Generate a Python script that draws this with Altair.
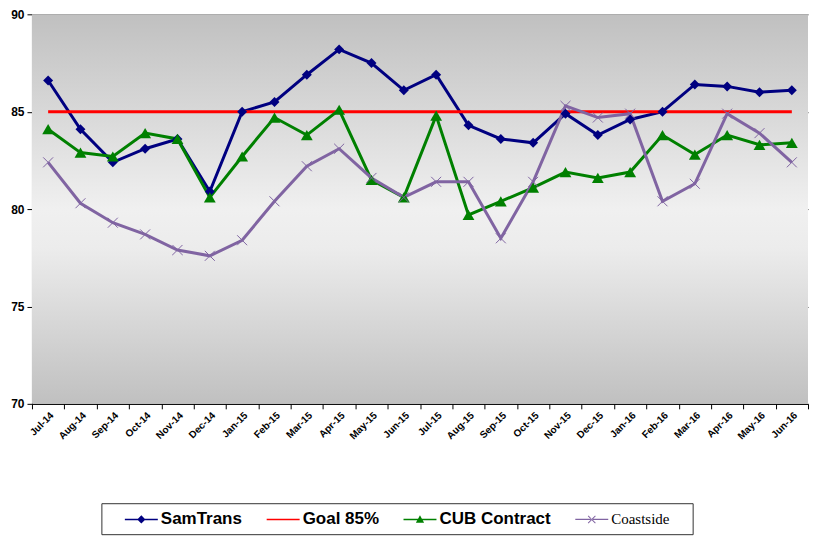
import altair as alt
import pandas as pd

months = ["Jul-14", "Aug-14", "Sep-14", "Oct-14", "Nov-14", "Dec-14",
          "Jan-15", "Feb-15", "Mar-15", "Apr-15", "May-15", "Jun-15",
          "Jul-15", "Aug-15", "Sep-15", "Oct-15", "Nov-15", "Dec-15",
          "Jan-16", "Feb-16", "Mar-16", "Apr-16", "May-16", "Jun-16"]

samtrans = [86.6, 84.1, 82.4, 83.1, 83.6, 80.9, 85.0, 85.5, 86.9, 88.2, 87.5, 86.1,
            86.9, 84.3, 83.6, 83.4, 84.9, 83.8, 84.6, 85.0, 86.4, 86.3, 86.0, 86.1]
goal = [85.0] * 24
cub = [84.1, 82.9, 82.7, 83.9, 83.6, 80.6, 82.7, 84.7, 83.8, 85.1, 81.5, 80.6,
       84.8, 79.7, 80.4, 81.1, 81.9, 81.6, 81.9, 83.8, 82.8, 83.8, 83.3, 83.4]
coastside = [82.4, 80.3, 79.3, 78.7, 77.9, 77.6, 78.4, 80.4, 82.2, 83.1, 81.6, 80.6,
             81.4, 81.4, 78.5, 81.4, 85.3, 84.7, 84.9, 80.4, 81.3, 84.9, 83.9, 82.4]

series_names = ["SamTrans", "Goal 85%", "CUB Contract", "Coastside"]
series_colors = ["#000080", "#FF0000", "#008000", "#8064A2"]

rows = []
for name, vals in zip(series_names, [samtrans, goal, cub, coastside]):
    for m, v in zip(months, vals):
        rows.append({"month": m, "series": name, "value": v})
df = pd.DataFrame(rows)

W, H = 777, 390

x = alt.X("month:N", sort=months, title=None,
          scale=alt.Scale(paddingInner=0, paddingOuter=0),
          axis=alt.Axis(labelAngle=-45, labelAlign="right", labelBaseline="top",
                        labelFont="Liberation Sans", labelFontWeight="bold", labelFontSize=10,
                        labelColor="black", tickBand="extent", tickColor="black",
                        tickSize=5, domainColor="black", labelPadding=1, grid=False))
y = alt.Y("value:Q", title=None,
          scale=alt.Scale(domain=[70, 90], nice=False, zero=False),
          axis=alt.Axis(values=[70, 75, 80, 85, 90], labelFont="Liberation Sans",
                        labelFontWeight="bold", labelFontSize=12, labelColor="black",
                        tickColor="black", tickSize=5, domainColor="black",
                        grid=True, gridColor="#333333", gridWidth=1, labelPadding=3))

one = pd.DataFrame({"a": [1]})
bg = alt.Chart(one).mark_rect(
    color=alt.Gradient(gradient="linear", x1=0, y1=0, x2=0, y2=1,
                       stops=[alt.GradientStop(offset=0, color="#c0c0c0"),
                              alt.GradientStop(offset=0.5, color="#f0f0f0"),
                              alt.GradientStop(offset=0.6, color="#ececec"),
                              alt.GradientStop(offset=1, color="#c0c0c0")])
).encode(x=alt.value(0), x2=alt.value(W), y=alt.value(0), y2=alt.value(H))

# legend frame (decoration)
frame = alt.Chart(one).mark_rect(fill="white", stroke="#333333", strokeWidth=1).encode(
    x=alt.value(70), x2=alt.value(662), y=alt.value(490), y2=alt.value(521))

base = alt.Chart(df)

line_layers = []
for name, col in zip(series_names, series_colors):
    line_layers.append(
        base.transform_filter(alt.datum.series == name)
        .mark_line(strokeWidth=3, color=col).encode(x=x, y=y)
    )

sam_pts = base.transform_filter(alt.datum.series == "SamTrans").mark_point(
    shape="diamond", filled=True, size=100, color="#000080", opacity=1).encode(x=x, y=y)
cub_pts = base.transform_filter(alt.datum.series == "CUB Contract").mark_point(
    shape="triangle-up", filled=True, size=140, color="#008000", opacity=1).encode(x=x, y=y)
coast_pts = base.transform_filter(alt.datum.series == "Coastside").mark_point(
    shape="M-1,-1L1,1M-1,1L1,-1", filled=False, size=100, color="#8064A2",
    strokeWidth=1, opacity=1).encode(x=x, y=y)

leg_shapes = [
    "M-1,-0.045H1V0.045H-1Z M-0.25,0L0,-0.25L0.25,0L0,0.25Z",
    "M-1,-0.045H1V0.045H-1Z",
    "M-1,-0.045H1V0.045H-1Z M-0.25,0.2L0,-0.25L0.25,0.2Z",
    "M-1,-0.04H1V0.04H-1Z M-0.2,-0.24L-0.24,-0.2L0.2,0.24L0.24,0.2Z M0.2,-0.24L0.24,-0.2L-0.2,0.24L-0.24,0.2Z",
]

legend_def = alt.Legend(
    title=None, orient="none", direction="horizontal", legendX=93, legendY=489,
    symbolSize=1089, symbolOpacity=1, symbolStrokeWidth=0,
    labelFontSize={"expr": "datum.label == 'Coastside' ? 15 : 17"},
    labelFont={"expr": "datum.label == 'Coastside' ? 'Liberation Serif' : 'Liberation Sans'"},
    labelFontWeight={"expr": "datum.label == 'Coastside' ? 'normal' : 'bold'"},
    labelColor="black", labelOffset=3, columnPadding=24, padding=0,
)

leg_layer = base.mark_point(filled=True, opacity=0).encode(
    x=x, y=y,
    color=alt.Color("series:N", scale=alt.Scale(domain=series_names, range=series_colors),
                    legend=legend_def),
    shape=alt.Shape("series:N", scale=alt.Scale(domain=series_names, range=leg_shapes),
                    legend=legend_def),
)

chart = alt.layer(bg, frame, *line_layers, sam_pts, cub_pts, coast_pts, leg_layer).properties(
    width=W, height=H, padding={"left": 2, "top": 0, "right": 0, "bottom": 0}
).configure_view(stroke=None)

chart.save("out.html", embed_options={"renderer": "svg", "actions": False})
